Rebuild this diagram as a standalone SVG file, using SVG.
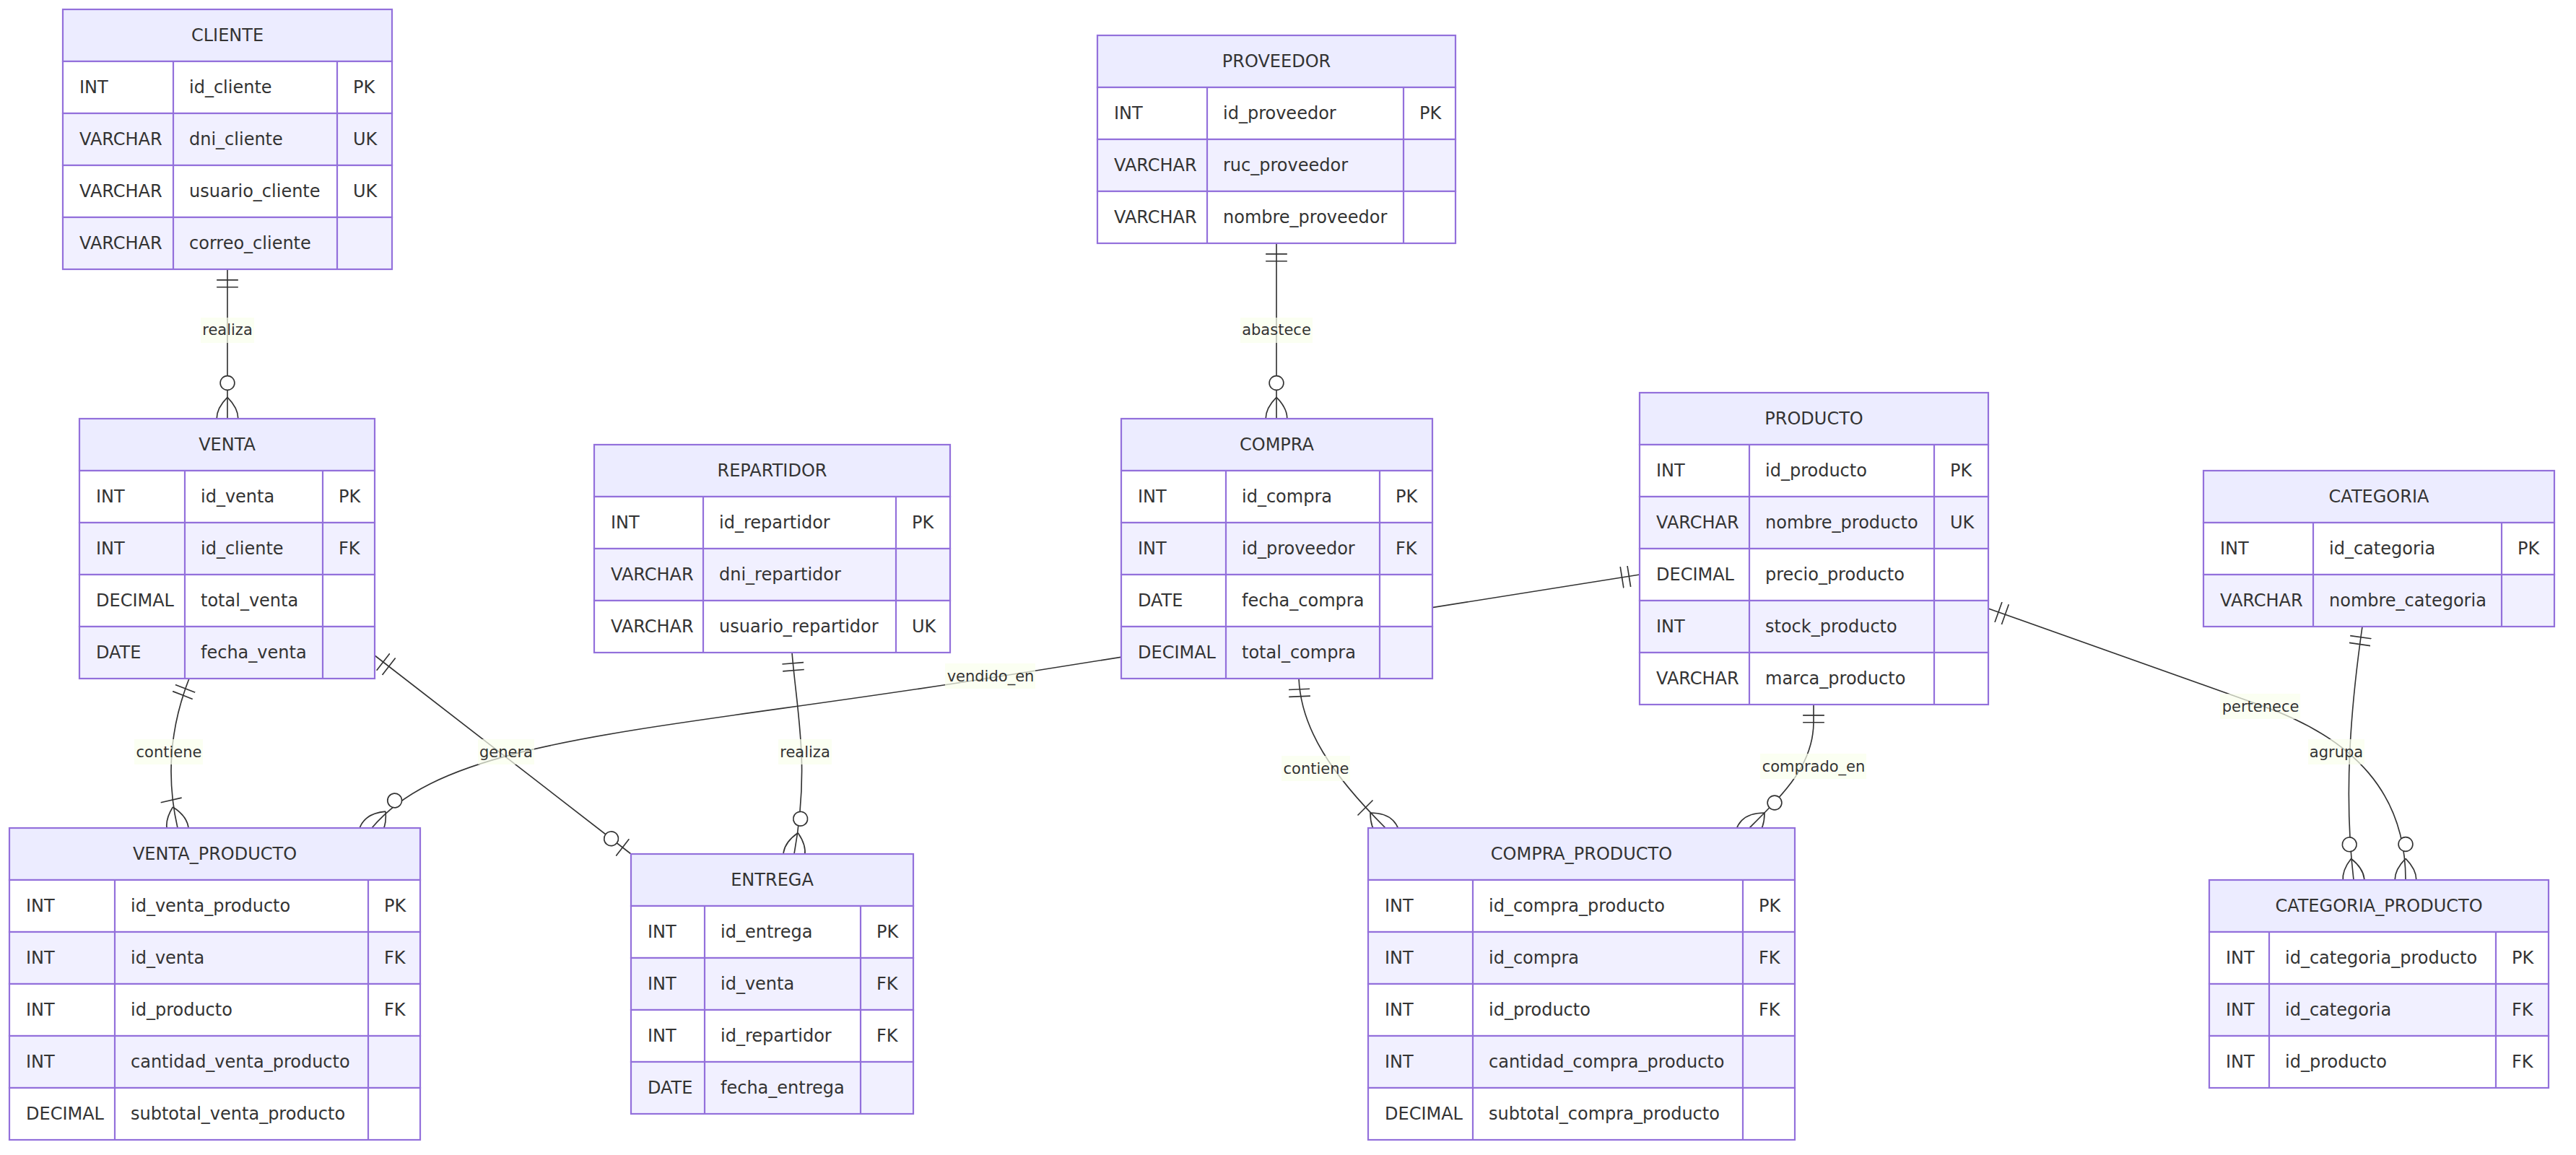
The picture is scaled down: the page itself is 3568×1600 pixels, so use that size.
<svg xmlns="http://www.w3.org/2000/svg" width="3568" height="1600" viewBox="0 0 3568 1600">
<style>
.hdr{fill:#ECECFF;stroke:#9370DB;stroke-width:2.2}
.odd{fill:#FFFFFF;stroke:#9370DB;stroke-width:2.2}
.even{fill:#F1F0FF;stroke:#9370DB;stroke-width:2.2}
.grid{fill:none;stroke:#9370DB;stroke-width:2.2}
.t{font-family:"DejaVu Sans",sans-serif;font-size:24px;fill:#333;dominant-baseline:central}
.h{text-anchor:middle}
.rel{fill:none;stroke:#333;stroke-width:1.65}
.mk{fill:none;stroke:#333;stroke-width:1}
.mc{fill:#FFFFFF;stroke:#333;stroke-width:1}
.lb{fill:#F9FFEC;opacity:0.7}
.lt{font-family:"DejaVu Sans",sans-serif;font-size:21px;fill:#333;text-anchor:middle;dominant-baseline:central}
</style>
<defs>
<marker id="ONLY_ONE_START" refX="0" refY="9" markerWidth="18" markerHeight="18" orient="auto"><path class="mk" d="M9,0 L9,18 M15,0 L15,18"/></marker>
<marker id="ONLY_ONE_END" refX="18" refY="9" markerWidth="18" markerHeight="18" orient="auto"><path class="mk" d="M3,0 L3,18 M9,0 L9,18"/></marker>
<marker id="ZERO_OR_ONE_END" refX="30" refY="9" markerWidth="30" markerHeight="18" orient="auto"><circle class="mc" cx="9" cy="9" r="6"/><path class="mk" d="M21,0 L21,18"/></marker>
<marker id="ONE_OR_MORE_END" refX="27" refY="18" markerWidth="45" markerHeight="36" orient="auto"><path class="mk" d="M3,9 L3,27 M9,18 Q27,0 45,18 Q27,36 9,18"/></marker>
<marker id="ZERO_OR_MORE_END" refX="39" refY="18" markerWidth="57" markerHeight="36" orient="auto"><circle class="mc" cx="9" cy="18" r="6"/><path class="mk" d="M21,18 Q39,0 57,18 Q39,36 21,18"/></marker>
</defs>
<rect x="0" y="0" width="3568" height="1600" fill="#FFFFFF"/>

<g id="connectors">
<path class="rel" d="M315,373 L315,580" marker-start="url(#ONLY_ONE_START)" marker-end="url(#ZERO_OR_MORE_END)"/>
<path class="rel" d="M1768,337 L1768,580" marker-start="url(#ONLY_ONE_START)" marker-end="url(#ZERO_OR_MORE_END)"/>
<path class="rel" d="M262,940 Q222,1042 246,1147" marker-start="url(#ONLY_ONE_START)" marker-end="url(#ONE_OR_MORE_END)"/>
<path class="rel" d="M519,908 L874,1183" marker-start="url(#ONLY_ONE_START)" marker-end="url(#ZERO_OR_ONE_END)"/>
<path class="rel" d="M1097,904 C1104,990 1122,1060 1100,1183" marker-start="url(#ONLY_ONE_START)" marker-end="url(#ZERO_OR_MORE_END)"/>
<path class="rel" d="M2271,796 L1372,939 C900,1014 620,1021 515,1147" marker-start="url(#ONLY_ONE_START)" marker-end="url(#ZERO_OR_MORE_END)"/>
<path class="rel" d="M1799,940 C1802,1010 1845,1073 1919,1147" marker-start="url(#ONLY_ONE_START)" marker-end="url(#ONE_OR_MORE_END)"/>
<path class="rel" d="M2512,976 L2512,1000 C2512,1060 2470,1100 2423,1147" marker-start="url(#ONLY_ONE_START)" marker-end="url(#ZERO_OR_MORE_END)"/>
<path class="rel" d="M2754,843 L3131,977 C3262,1023 3332,1100 3332,1219" marker-start="url(#ONLY_ONE_START)" marker-end="url(#ZERO_OR_MORE_END)"/>
<path class="rel" d="M3272,868 C3256,980 3246,1100 3260,1219" marker-start="url(#ONLY_ONE_START)" marker-end="url(#ZERO_OR_MORE_END)"/>
<rect class="lb" x="278" y="440" width="74" height="35"/><text class="lt" x="315" y="457">realiza</text>
<rect class="lb" x="1718" y="440" width="100" height="35"/><text class="lt" x="1768" y="457">abastece</text>
<rect class="lb" x="186" y="1024" width="95" height="35"/><text class="lt" x="234" y="1042">contiene</text>
<rect class="lb" x="662" y="1024" width="78" height="35"/><text class="lt" x="701" y="1042">genera</text>
<rect class="lb" x="1078" y="1024" width="74" height="35"/><text class="lt" x="1115" y="1042">realiza</text>
<rect class="lb" x="1309" y="919" width="125" height="35"/><text class="lt" x="1372" y="937">vendido_en</text>
<rect class="lb" x="1775" y="1047" width="95" height="35"/><text class="lt" x="1823" y="1065">contiene</text>
<rect class="lb" x="2438" y="1044" width="147" height="35"/><text class="lt" x="2512" y="1062">comprado_en</text>
<rect class="lb" x="3075" y="961" width="111" height="35"/><text class="lt" x="3131" y="979">pertenece</text>
<rect class="lb" x="3197" y="1024" width="78" height="35"/><text class="lt" x="3236" y="1042">agrupa</text>
</g>

<g id="CLIENTE">
<rect class="hdr" x="87" y="13" width="456" height="72"/>
<rect class="odd" x="87" y="85" width="456" height="72"/>
<rect class="even" x="87" y="157" width="456" height="72"/>
<rect class="odd" x="87" y="229" width="456" height="72"/>
<rect class="even" x="87" y="301" width="456" height="72"/>
<path class="grid" d="M240,85V373M467,85V373"/>
<text class="t h" x="315" y="49">CLIENTE</text>
<text class="t" x="110" y="121">INT</text><text class="t" x="262" y="121">id_cliente</text><text class="t" x="489" y="121">PK</text>
<text class="t" x="110" y="193">VARCHAR</text><text class="t" x="262" y="193">dni_cliente</text><text class="t" x="489" y="193">UK</text>
<text class="t" x="110" y="265">VARCHAR</text><text class="t" x="262" y="265">usuario_cliente</text><text class="t" x="489" y="265">UK</text>
<text class="t" x="110" y="337">VARCHAR</text><text class="t" x="262" y="337">correo_cliente</text>
</g>

<g id="VENTA">
<rect class="hdr" x="110" y="580" width="409" height="72"/>
<rect class="odd" x="110" y="652" width="409" height="72"/>
<rect class="even" x="110" y="724" width="409" height="72"/>
<rect class="odd" x="110" y="796" width="409" height="72"/>
<rect class="even" x="110" y="868" width="409" height="72"/>
<path class="grid" d="M256,652V940M447,652V940"/>
<text class="t h" x="314.5" y="616">VENTA</text>
<text class="t" x="133" y="688">INT</text><text class="t" x="278" y="688">id_venta</text><text class="t" x="469" y="688">PK</text>
<text class="t" x="133" y="760">INT</text><text class="t" x="278" y="760">id_cliente</text><text class="t" x="469" y="760">FK</text>
<text class="t" x="133" y="832">DECIMAL</text><text class="t" x="278" y="832">total_venta</text>
<text class="t" x="133" y="904">DATE</text><text class="t" x="278" y="904">fecha_venta</text>
</g>

<g id="VENTA_PRODUCTO">
<rect class="hdr" x="13" y="1147" width="569" height="72"/>
<rect class="odd" x="13" y="1219" width="569" height="72"/>
<rect class="even" x="13" y="1291" width="569" height="72"/>
<rect class="odd" x="13" y="1363" width="569" height="72"/>
<rect class="even" x="13" y="1435" width="569" height="72"/>
<rect class="odd" x="13" y="1507" width="569" height="72"/>
<path class="grid" d="M159,1219V1579M510,1219V1579"/>
<text class="t h" x="297.5" y="1183">VENTA_PRODUCTO</text>
<text class="t" x="36" y="1255">INT</text><text class="t" x="181" y="1255">id_venta_producto</text><text class="t" x="532" y="1255">PK</text>
<text class="t" x="36" y="1327">INT</text><text class="t" x="181" y="1327">id_venta</text><text class="t" x="532" y="1327">FK</text>
<text class="t" x="36" y="1399">INT</text><text class="t" x="181" y="1399">id_producto</text><text class="t" x="532" y="1399">FK</text>
<text class="t" x="36" y="1471">INT</text><text class="t" x="181" y="1471">cantidad_venta_producto</text>
<text class="t" x="36" y="1543">DECIMAL</text><text class="t" x="181" y="1543">subtotal_venta_producto</text>
</g>

<g id="REPARTIDOR">
<rect class="hdr" x="823" y="616" width="493" height="72"/>
<rect class="odd" x="823" y="688" width="493" height="72"/>
<rect class="even" x="823" y="760" width="493" height="72"/>
<rect class="odd" x="823" y="832" width="493" height="72"/>
<path class="grid" d="M974,688V904M1241,688V904"/>
<text class="t h" x="1069.5" y="652">REPARTIDOR</text>
<text class="t" x="846" y="724">INT</text><text class="t" x="996" y="724">id_repartidor</text><text class="t" x="1263" y="724">PK</text>
<text class="t" x="846" y="796">VARCHAR</text><text class="t" x="996" y="796">dni_repartidor</text>
<text class="t" x="846" y="868">VARCHAR</text><text class="t" x="996" y="868">usuario_repartidor</text><text class="t" x="1263" y="868">UK</text>
</g>

<g id="ENTREGA">
<rect class="hdr" x="874" y="1183" width="391" height="72"/>
<rect class="odd" x="874" y="1255" width="391" height="72"/>
<rect class="even" x="874" y="1327" width="391" height="72"/>
<rect class="odd" x="874" y="1399" width="391" height="72"/>
<rect class="even" x="874" y="1471" width="391" height="72"/>
<path class="grid" d="M976,1255V1543M1192,1255V1543"/>
<text class="t h" x="1069.5" y="1219">ENTREGA</text>
<text class="t" x="897" y="1291">INT</text><text class="t" x="998" y="1291">id_entrega</text><text class="t" x="1214" y="1291">PK</text>
<text class="t" x="897" y="1363">INT</text><text class="t" x="998" y="1363">id_venta</text><text class="t" x="1214" y="1363">FK</text>
<text class="t" x="897" y="1435">INT</text><text class="t" x="998" y="1435">id_repartidor</text><text class="t" x="1214" y="1435">FK</text>
<text class="t" x="897" y="1507">DATE</text><text class="t" x="998" y="1507">fecha_entrega</text>
</g>

<g id="PROVEEDOR">
<rect class="hdr" x="1520" y="49" width="496" height="72"/>
<rect class="odd" x="1520" y="121" width="496" height="72"/>
<rect class="even" x="1520" y="193" width="496" height="72"/>
<rect class="odd" x="1520" y="265" width="496" height="72"/>
<path class="grid" d="M1672,121V337M1944,121V337"/>
<text class="t h" x="1768" y="85">PROVEEDOR</text>
<text class="t" x="1543" y="157">INT</text><text class="t" x="1694" y="157">id_proveedor</text><text class="t" x="1966" y="157">PK</text>
<text class="t" x="1543" y="229">VARCHAR</text><text class="t" x="1694" y="229">ruc_proveedor</text>
<text class="t" x="1543" y="301">VARCHAR</text><text class="t" x="1694" y="301">nombre_proveedor</text>
</g>

<g id="COMPRA">
<rect class="hdr" x="1553" y="580" width="431" height="72"/>
<rect class="odd" x="1553" y="652" width="431" height="72"/>
<rect class="even" x="1553" y="724" width="431" height="72"/>
<rect class="odd" x="1553" y="796" width="431" height="72"/>
<rect class="even" x="1553" y="868" width="431" height="72"/>
<path class="grid" d="M1698,652V940M1911,652V940"/>
<text class="t h" x="1768.5" y="616">COMPRA</text>
<text class="t" x="1576" y="688">INT</text><text class="t" x="1720" y="688">id_compra</text><text class="t" x="1933" y="688">PK</text>
<text class="t" x="1576" y="760">INT</text><text class="t" x="1720" y="760">id_proveedor</text><text class="t" x="1933" y="760">FK</text>
<text class="t" x="1576" y="832">DATE</text><text class="t" x="1720" y="832">fecha_compra</text>
<text class="t" x="1576" y="904">DECIMAL</text><text class="t" x="1720" y="904">total_compra</text>
</g>

<g id="PRODUCTO">
<rect class="hdr" x="2271" y="544" width="483" height="72"/>
<rect class="odd" x="2271" y="616" width="483" height="72"/>
<rect class="even" x="2271" y="688" width="483" height="72"/>
<rect class="odd" x="2271" y="760" width="483" height="72"/>
<rect class="even" x="2271" y="832" width="483" height="72"/>
<rect class="odd" x="2271" y="904" width="483" height="72"/>
<path class="grid" d="M2423,616V976M2679,616V976"/>
<text class="t h" x="2512.5" y="580">PRODUCTO</text>
<text class="t" x="2294" y="652">INT</text><text class="t" x="2445" y="652">id_producto</text><text class="t" x="2701" y="652">PK</text>
<text class="t" x="2294" y="724">VARCHAR</text><text class="t" x="2445" y="724">nombre_producto</text><text class="t" x="2701" y="724">UK</text>
<text class="t" x="2294" y="796">DECIMAL</text><text class="t" x="2445" y="796">precio_producto</text>
<text class="t" x="2294" y="868">INT</text><text class="t" x="2445" y="868">stock_producto</text>
<text class="t" x="2294" y="940">VARCHAR</text><text class="t" x="2445" y="940">marca_producto</text>
</g>

<g id="COMPRA_PRODUCTO">
<rect class="hdr" x="1895" y="1147" width="591" height="72"/>
<rect class="odd" x="1895" y="1219" width="591" height="72"/>
<rect class="even" x="1895" y="1291" width="591" height="72"/>
<rect class="odd" x="1895" y="1363" width="591" height="72"/>
<rect class="even" x="1895" y="1435" width="591" height="72"/>
<rect class="odd" x="1895" y="1507" width="591" height="72"/>
<path class="grid" d="M2040,1219V1579M2414,1219V1579"/>
<text class="t h" x="2190.5" y="1183">COMPRA_PRODUCTO</text>
<text class="t" x="1918" y="1255">INT</text><text class="t" x="2062" y="1255">id_compra_producto</text><text class="t" x="2436" y="1255">PK</text>
<text class="t" x="1918" y="1327">INT</text><text class="t" x="2062" y="1327">id_compra</text><text class="t" x="2436" y="1327">FK</text>
<text class="t" x="1918" y="1399">INT</text><text class="t" x="2062" y="1399">id_producto</text><text class="t" x="2436" y="1399">FK</text>
<text class="t" x="1918" y="1471">INT</text><text class="t" x="2062" y="1471">cantidad_compra_producto</text>
<text class="t" x="1918" y="1543">DECIMAL</text><text class="t" x="2062" y="1543">subtotal_compra_producto</text>
</g>

<g id="CATEGORIA">
<rect class="hdr" x="3052" y="652" width="486" height="72"/>
<rect class="odd" x="3052" y="724" width="486" height="72"/>
<rect class="even" x="3052" y="796" width="486" height="72"/>
<path class="grid" d="M3204,724V868M3465,724V868"/>
<text class="t h" x="3295" y="688">CATEGORIA</text>
<text class="t" x="3075" y="760">INT</text><text class="t" x="3226" y="760">id_categoria</text><text class="t" x="3487" y="760">PK</text>
<text class="t" x="3075" y="832">VARCHAR</text><text class="t" x="3226" y="832">nombre_categoria</text>
</g>

<g id="CATEGORIA_PRODUCTO">
<rect class="hdr" x="3060" y="1219" width="470" height="72"/>
<rect class="odd" x="3060" y="1291" width="470" height="72"/>
<rect class="even" x="3060" y="1363" width="470" height="72"/>
<rect class="odd" x="3060" y="1435" width="470" height="72"/>
<path class="grid" d="M3143,1291V1507M3457,1291V1507"/>
<text class="t h" x="3295" y="1255">CATEGORIA_PRODUCTO</text>
<text class="t" x="3083" y="1327">INT</text><text class="t" x="3165" y="1327">id_categoria_producto</text><text class="t" x="3479" y="1327">PK</text>
<text class="t" x="3083" y="1399">INT</text><text class="t" x="3165" y="1399">id_categoria</text><text class="t" x="3479" y="1399">FK</text>
<text class="t" x="3083" y="1471">INT</text><text class="t" x="3165" y="1471">id_producto</text><text class="t" x="3479" y="1471">FK</text>
</g>
</svg>
